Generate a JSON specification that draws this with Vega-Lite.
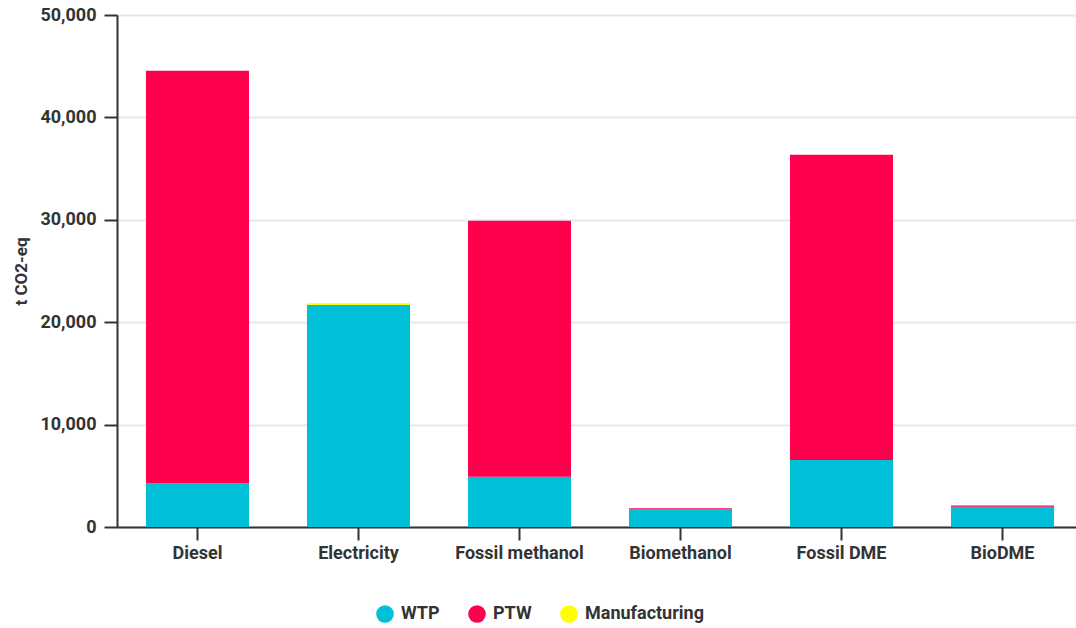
{
  "$schema": "https://vega.github.io/schema/vega-lite/v6.json",
  "autosize": "none",
  "width": 966,
  "height": 512,
  "padding": {"left": 117, "top": 15, "right": 0, "bottom": 101},
  "background": "white",
  "config": {
    "font": "Roboto",
    "view": {"stroke": null}
  },
  "data": {
    "values": [
      {"fuel": "Diesel", "source": "WTP", "o": 1, "value": 4250},
      {"fuel": "Diesel", "source": "PTW", "o": 2, "value": 40300},
      {"fuel": "Diesel", "source": "Manufacturing", "o": 3, "value": 0},
      {"fuel": "Electricity", "source": "WTP", "o": 1, "value": 21680},
      {"fuel": "Electricity", "source": "PTW", "o": 2, "value": 0},
      {"fuel": "Electricity", "source": "Manufacturing", "o": 3, "value": 170},
      {"fuel": "Fossil methanol", "source": "WTP", "o": 1, "value": 4900},
      {"fuel": "Fossil methanol", "source": "PTW", "o": 2, "value": 25000},
      {"fuel": "Fossil methanol", "source": "Manufacturing", "o": 3, "value": 0},
      {"fuel": "Biomethanol", "source": "WTP", "o": 1, "value": 1700},
      {"fuel": "Biomethanol", "source": "PTW", "o": 2, "value": 120},
      {"fuel": "Biomethanol", "source": "Manufacturing", "o": 3, "value": 0},
      {"fuel": "Fossil DME", "source": "WTP", "o": 1, "value": 6550},
      {"fuel": "Fossil DME", "source": "PTW", "o": 2, "value": 29800},
      {"fuel": "Fossil DME", "source": "Manufacturing", "o": 3, "value": 0},
      {"fuel": "BioDME", "source": "WTP", "o": 1, "value": 1970},
      {"fuel": "BioDME", "source": "PTW", "o": 2, "value": 130},
      {"fuel": "BioDME", "source": "Manufacturing", "o": 3, "value": 0}
    ]
  },
  "mark": {"type": "bar"},
  "encoding": {
    "x": {
      "field": "fuel",
      "type": "nominal",
      "sort": ["Diesel", "Electricity", "Fossil methanol", "Biomethanol", "Fossil DME", "BioDME"],
      "scale": {"paddingInner": 0.36, "paddingOuter": 0.18},
      "axis": {
        "title": null,
        "labelAngle": 0,
        "labelFont": "Roboto",
        "labelFontSize": 18,
        "labelFontWeight": "bold",
        "labelColor": "#333333",
        "labelPadding": 4,
        "domainColor": "#333333",
        "domainWidth": 2,
        "tickColor": "#333333",
        "tickWidth": 2,
        "tickSize": 13,
        "grid": false
      }
    },
    "y": {
      "field": "value",
      "type": "quantitative",
      "stack": "zero",
      "scale": {"domain": [0, 50000], "nice": false},
      "axis": {
        "title": "t CO2-eq",
        "titleFont": "Roboto",
        "titleFontSize": 17,
        "titleFontWeight": "bold",
        "titleColor": "#333333",
        "titlePadding": 9,
        "values": [0, 10000, 20000, 30000, 40000, 50000],
        "format": ",d",
        "labelFont": "Roboto",
        "labelFontSize": 18,
        "labelFontWeight": "bold",
        "labelColor": "#333333",
        "labelPadding": 8,
        "domainColor": "#333333",
        "domainWidth": 2,
        "tickColor": "#333333",
        "tickWidth": 2,
        "tickSize": 13,
        "grid": true,
        "gridColor": "#e8e8e8",
        "gridWidth": 2
      }
    },
    "color": {
      "field": "source",
      "type": "nominal",
      "scale": {
        "domain": ["WTP", "PTW", "Manufacturing"],
        "range": ["#00BFD8", "#FF004D", "#FFFF00"]
      },
      "legend": {
        "title": null,
        "orient": "none",
        "direction": "horizontal",
        "legendX": 259,
        "legendY": 590,
        "symbolType": "circle",
        "symbolSize": 310,
        "symbolStrokeWidth": 0,
        "labelFont": "Roboto",
        "labelFontSize": 18,
        "labelFontWeight": "bold",
        "labelColor": "#333333",
        "labelOffset": 7,
        "columnPadding": 28
      }
    },
    "order": {"field": "o", "type": "quantitative"}
  }
}
